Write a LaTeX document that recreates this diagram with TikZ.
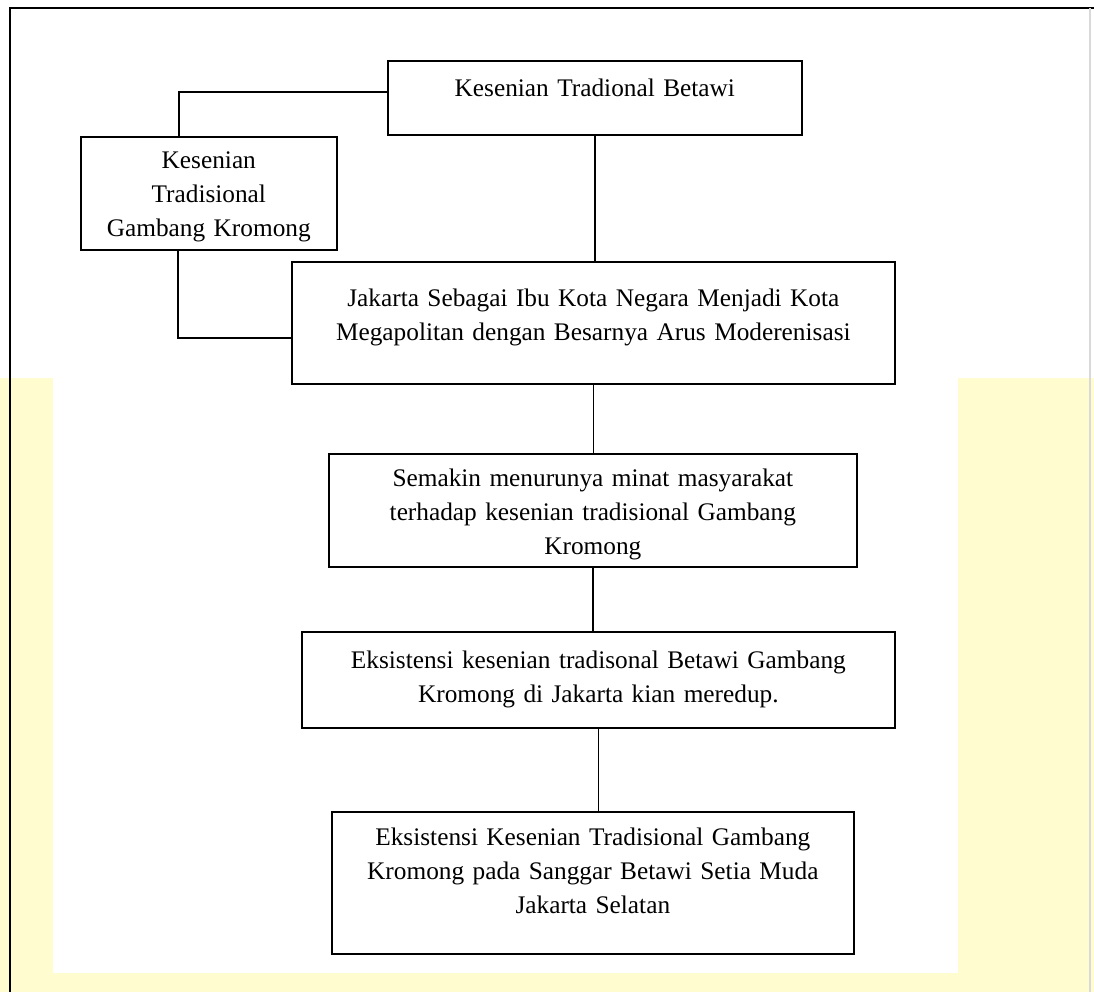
\documentclass[tikz,border=0pt]{standalone}
\usepackage{fontspec}
\setmainfont{Liberation Serif}
\usetikzlibrary{positioning}

\definecolor{kuningpucat}{HTML}{FFFDD0}

\begin{document}
\begin{tikzpicture}[x=0.025cm, y=-0.025cm,
                    kotak/.style={draw, line width=1.1pt, anchor=north west, align=center,
                                  inner xsep=0pt, inner ysep=0pt, font=\fontsize{18}{24}\selectfont},
                    garis/.style={draw, line width=1.1pt}]

                      % latar dan bingkai
                      \fill[kuningpucat] (0,378) rectangle (1094,992);
                      \fill[white] (53,0) rectangle (958,973);
                      \useasboundingbox (0,0) rectangle (1094,992);
                      \draw[line width=1.4pt] (10,992) -- (10,8) -- (1094,8);
                      \draw[black!15, line width=1pt] (1090,8) -- (1090,992);

                      \node[kotak, text width=10.35cm, text height=0.9cm, text depth=0.95cm]   (betawi)   at (387,60)  {Kesenian Tradional Betawi};
                      \node[kotak, text width=6.4cm, text height=0.8cm, text depth=2.025cm]    (gambang)  at (80,136)  {Kesenian\\ Tradisional\\ Gambang Kromong};
                      \node[kotak, text width=15.075cm, text height=1.125cm, text depth=1.925cm] (jakarta) at (291,261) {Jakarta Sebagai Ibu Kota Negara Menjadi Kota\\ Megapolitan dengan Besarnya Arus Moderenisasi};
                      \node[kotak, text width=13.2cm, text height=0.825cm, text depth=2.0cm]   (minat)    at (328,453) {Semakin menurunya minat masyarakat\\ terhadap kesenian tradisional Gambang\\ Kromong};
                      \node[kotak, text width=14.825cm, text height=0.925cm, text depth=1.475cm] (redup)  at (301,631) {Eksistensi kesenian tradisonal Betawi Gambang\\ Kromong di Jakarta kian meredup.};
                      \node[kotak, text width=13.05cm, text height=0.85cm, text depth=2.7cm]    (sanggar)  at (331,811) {Eksistensi Kesenian Tradisional Gambang\\ Kromong pada Sanggar Betawi Setia Muda\\ Jakarta Selatan};

                      \draw[garis] ([yshift=0.15cm]betawi.west) -| ([xshift=-0.75cm]gambang.north);
                      \draw[garis] ([xshift=-0.775cm]gambang.south) |- ([yshift=-0.375cm]jakarta.west);
                      \path (betawi.south)  edge[garis] (betawi.south |- jakarta.north)
                            (jakarta.south) edge[garis] (jakarta.south |- minat.north)
                            (minat.south)   edge[garis] (minat.south |- redup.north)
                            (redup.south)   edge[garis] (redup.south |- sanggar.north);
                \end{tikzpicture}
\end{document}
